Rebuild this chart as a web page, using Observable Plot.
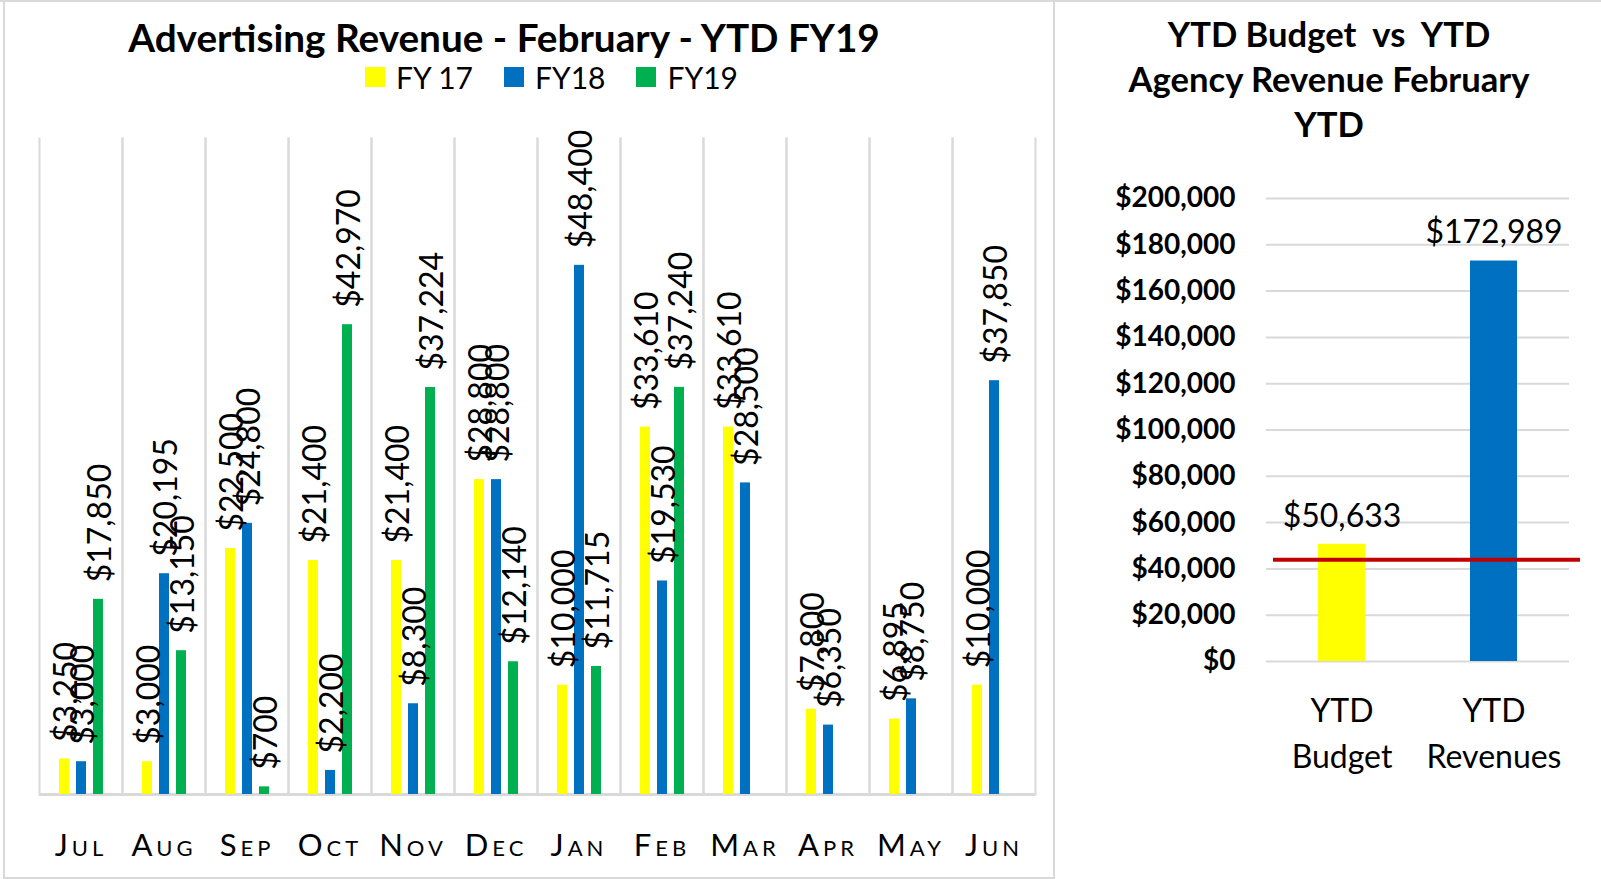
<!DOCTYPE html>
<html>
<head>
<meta charset="utf-8">
<script src="https://cdn.jsdelivr.net/npm/d3@7"></script>
<script src="https://cdn.jsdelivr.net/npm/@observablehq/plot@0.6"></script>
<style>
html,body{margin:0;padding:0;background:#fff}
body{position:relative;width:1601px;height:879px;overflow:hidden;font-family:Lato,"Open Sans",sans-serif;color:#000}
.abs{position:absolute}
#topline{left:0;top:0;width:1601px;height:2px;background:#d9d9d9}
#leftbox{left:3px;top:0;width:1052px;height:879px;border:2px solid #d9d9d9;box-sizing:border-box}
#legend{left:365px;top:62px;height:30px;display:flex;align-items:center;font-size:30px;line-height:1;white-space:pre}
#legend .sw{width:20px;height:20px;margin-right:11px}
#legend .lab{margin-right:31px}
svg text{font-family:Lato,"Open Sans",sans-serif}
g[aria-label="fx-axis tick label"] text{letter-spacing:4px}
</style>
</head>
<body>
<div id="topline" class="abs"></div>
<div id="leftbox" class="abs"></div>
<div id="legend" class="abs"></div>
<div id="chartL" class="abs" style="left:0;top:100px"></div>
<div id="chartR" class="abs" style="left:1055px;top:150px"></div>
<script>
// ---------- data ----------
const months = ["Jul","Aug","Sep","Oct","Nov","Dec","Jan","Feb","Mar","Apr","May","Jun"];
const seriesNames = ["FY 17","FY18","FY19"];
const fy17 = [3250, 3000, 22500, 21400, 21400, 28800, 10000, 33610, 33610, 7800, 6895, 10000];
const fy18 = [3000, 20195, 24800, 2200, 8300, 28800, 48400, 19530, 28500, 6350, 8750, 37850];
const fy19 = [17850, 13150, 700, 42970, 37224, 12140, 11715, 37240, null, null, null, null];
const ytdCategories = ["YTD Budget","YTD Revenues"];
const ytdValues = [50633, 172989];
const budgetLine = 44000;
const leftTitle = "Advertising Revenue - February - YTD FY19";
const rightTitle = ["YTD Budget  vs  YTD","Agency Revenue February","YTD"];

// ---------- styles ----------
const seriesColors = ["#FFFF00","#0070C0","#00B050"];
const money = d3.format("$,.0f");

// ---------- helpers for HTML titles ----------
function measure(txt, fs, weight){
  const d=document.createElement("div");
  d.style.cssText=`position:absolute;white-space:pre;line-height:1;font-size:${fs}px;font-weight:${weight};visibility:hidden`;
  d.textContent=txt; document.body.appendChild(d);
  const w=d.getBoundingClientRect().width; d.remove(); return w;
}
function addText(txt, cx, cy, fs, weight){
  const d=document.createElement("div");
  d.style.cssText=`position:absolute;white-space:pre;line-height:1;font-size:${fs}px;font-weight:${weight}`;
  d.textContent=txt; document.body.appendChild(d);
  const w=d.getBoundingClientRect().width;
  d.style.left=(cx-w/2)+"px"; d.style.top=(cy-0.529*fs)+"px";
  return d;
}
const fsL = 100*752/measure(leftTitle,100,"bold");
addText(leftTitle, 504, 38, fsL, "bold");
const fsR = 100*401/measure(rightTitle[1],100,"bold");
rightTitle.forEach((t,i)=>addText(t, 1329, 35+45*i, fsR, "bold"));

// legend
const lg=document.getElementById("legend");
seriesNames.forEach((s,i)=>{
  const sw=document.createElement("div"); sw.className="sw"; sw.style.background=seriesColors[i]; lg.appendChild(sw);
  const lb=document.createElement("div"); lb.className="lab"; lb.textContent=s; lg.appendChild(lb);
});

// ---------- left chart ----------
const rows=[];
months.forEach((m,i)=>{
  [fy17,fy18,fy19].forEach((arr,j)=>{
    if(arr[i]!=null) rows.push({month:m, series:seriesNames[j], value:arr[i]});
  });
});

const left = Plot.plot({
  width:1055, height:779, marginLeft:37, marginRight:19, marginTop:38, marginBottom:85,
  style:{fontFamily:"Lato, sans-serif", color:"#000", background:"transparent", overflow:"visible"},
  fx:{domain:months, padding:0, label:null},
  x:{domain:seriesNames, paddingInner:0.42, paddingOuter:1.1, axis:null},
  y:{domain:[0,60000], axis:null},
  color:{domain:seriesNames, range:seriesColors},
  marks:[
    Plot.frame({anchor:"left", stroke:"#d9d9d9", strokeWidth:2}),
    Plot.frame({anchor:"right", stroke:"#d9d9d9", strokeWidth:2}),
    Plot.ruleY([0],{stroke:"#d9d9d9", strokeWidth:3}),
    Plot.barY(rows,{fx:"month", x:"series", y:"value", fill:"series"}),
    Plot.text(rows,{fx:"month", x:"series", y:"value", text:d=>money(d.value), rotate:-90, textAnchor:"start", dy:-17, dx:2, fontSize:32, fill:"#000"}),
    Plot.axisFx({anchor:"bottom", tickSize:0, tickPadding:39, fontSize:31, fontVariant:"small-caps", label:null})
  ]
});
document.getElementById("chartL").appendChild(left);

// ---------- right chart ----------
const ytd = ytdCategories.map((c,i)=>({cat:c, value:ytdValues[i]}));
const right = Plot.plot({
  width:546, height:729, marginLeft:211, marginRight:32, marginTop:48, marginBottom:218,
  style:{fontFamily:"Lato, sans-serif", color:"#000", background:"transparent", overflow:"visible"},
  x:{domain:ytdCategories, paddingInner:0.69, paddingOuter:0.34},
  y:{domain:[0,200000]},
  color:{domain:ytdCategories, range:["#FFFF00","#0070C0"]},
  marks:[
    Plot.gridY({ticks:10, stroke:"#d9d9d9", strokeOpacity:1, strokeWidth:2}),
    Plot.axisY({ticks:10, tickSize:0, tickPadding:31, tickFormat:money, fontSize:28, fontWeight:"bold", label:null}),
    Plot.barY(ytd,{x:"cat", y:"value", fill:"cat"}),
    Plot.ruleY([budgetLine],{stroke:"#C00000", strokeWidth:4, insetLeft:7, insetRight:-11}),
    Plot.text(ytd,{x:"cat", y:"value", text:d=>money(d.value), dy:-28, fontSize:32, fill:"#000"}),
    Plot.axisX({tickSize:0, tickPadding:28, fontSize:32, lineHeight:1.44, tickFormat:d=>d.replace(" ","\n"), label:null})
  ]
});
document.getElementById("chartR").appendChild(right);
</script>
</body>
</html>
